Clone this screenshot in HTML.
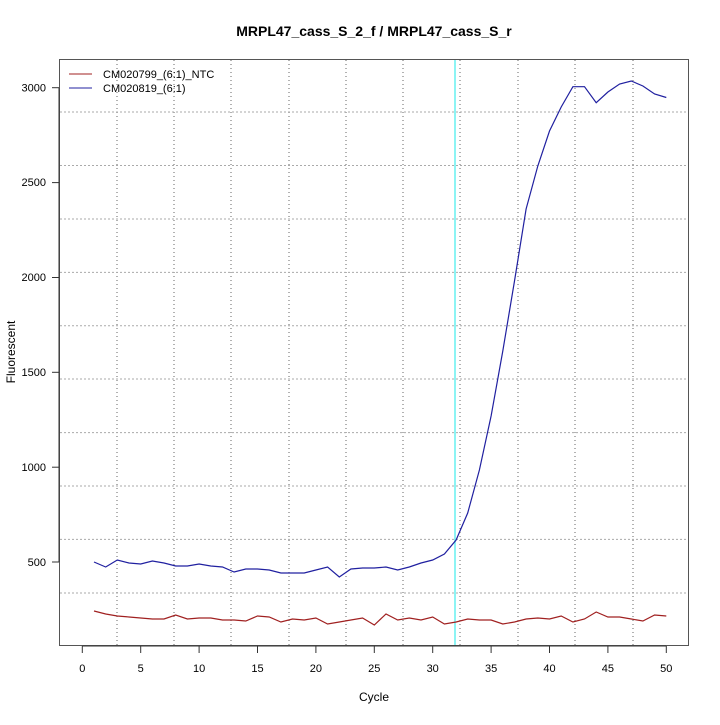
<!DOCTYPE html>
<html><head><meta charset="utf-8"><style>body{margin:0;background:#fff}</style></head><body>
<svg width="720" height="720" xmlns="http://www.w3.org/2000/svg" font-family="Liberation Sans, sans-serif">
<rect width="720" height="720" fill="#fff"/>
<text x="374" y="36" text-anchor="middle" font-weight="bold" font-size="14">MRPL47_cass_S_2_f / MRPL47_cass_S_r</text>
<g stroke="#666" stroke-dasharray="1,3" stroke-width="1">
<line x1="117" y1="60" x2="117" y2="645"/><line x1="174" y1="60" x2="174" y2="645"/><line x1="231" y1="60" x2="231" y2="645"/><line x1="289" y1="60" x2="289" y2="645"/><line x1="346" y1="60" x2="346" y2="645"/><line x1="403" y1="60" x2="403" y2="645"/><line x1="460" y1="60" x2="460" y2="645"/><line x1="518" y1="60" x2="518" y2="645"/><line x1="575" y1="60" x2="575" y2="645"/><line x1="633" y1="60" x2="633" y2="645"/>
</g>
<g stroke="#aaa" stroke-dasharray="2,2" stroke-width="1">
<line x1="60" y1="112" x2="688" y2="112"/><line x1="60" y1="165.5" x2="688" y2="165.5"/><line x1="60" y1="219" x2="688" y2="219"/><line x1="60" y1="272.4" x2="688" y2="272.4"/><line x1="60" y1="325.8" x2="688" y2="325.8"/><line x1="60" y1="379" x2="688" y2="379"/><line x1="60" y1="432.6" x2="688" y2="432.6"/><line x1="60" y1="486" x2="688" y2="486"/><line x1="60" y1="539.4" x2="688" y2="539.4"/><line x1="60" y1="593" x2="688" y2="593"/>
</g>
<line x1="455" y1="60" x2="455" y2="645" stroke="#66f0f0" stroke-width="1.5"/>
<rect x="59.5" y="59.5" width="629" height="586" fill="none" stroke="#555" stroke-width="1"/>
<g stroke="#333">
<line x1="82.3" y1="646" x2="666.3" y2="646"/>
<line x1="82.3" y1="646" x2="82.3" y2="653"/><line x1="140.7" y1="646" x2="140.7" y2="653"/><line x1="199.1" y1="646" x2="199.1" y2="653"/><line x1="257.5" y1="646" x2="257.5" y2="653"/><line x1="315.9" y1="646" x2="315.9" y2="653"/><line x1="374.3" y1="646" x2="374.3" y2="653"/><line x1="432.7" y1="646" x2="432.7" y2="653"/><line x1="491.1" y1="646" x2="491.1" y2="653"/><line x1="549.5" y1="646" x2="549.5" y2="653"/><line x1="607.9" y1="646" x2="607.9" y2="653"/><line x1="666.3" y1="646" x2="666.3" y2="653"/>
<line x1="59" y1="87.7" x2="59" y2="562"/>
<line x1="52" y1="562" x2="59" y2="562"/><line x1="52" y1="467.2" x2="59" y2="467.2"/><line x1="52" y1="372.3" x2="59" y2="372.3"/><line x1="52" y1="277.5" x2="59" y2="277.5"/><line x1="52" y1="182.6" x2="59" y2="182.6"/><line x1="52" y1="87.7" x2="59" y2="87.7"/>
</g>
<g font-size="11" text-anchor="middle">
<text x="82.3" y="672">0</text><text x="140.7" y="672">5</text><text x="199.1" y="672">10</text><text x="257.5" y="672">15</text><text x="315.9" y="672">20</text><text x="374.3" y="672">25</text><text x="432.7" y="672">30</text><text x="491.1" y="672">35</text><text x="549.5" y="672">40</text><text x="607.9" y="672">45</text><text x="666.3" y="672">50</text>
</g>
<g font-size="11" text-anchor="end">
<text x="46" y="566">500</text><text x="46" y="471">1000</text><text x="46" y="376">1500</text><text x="46" y="281">2000</text><text x="46" y="186">2500</text><text x="46" y="91.5">3000</text>
</g>
<text x="374" y="701" font-size="12" text-anchor="middle">Cycle</text>
<text transform="translate(15,352) rotate(-90)" font-size="12" text-anchor="middle">Fluorescent</text>
<line x1="69" y1="74" x2="92" y2="74" stroke="#a02020"/>
<line x1="69" y1="88" x2="92" y2="88" stroke="#2020a0"/>
<text x="103" y="78" font-size="11">CM020799_(6:1)_NTC</text>
<text x="103" y="92" font-size="11">CM020819_(6:1)</text>
<polyline fill="none" stroke="#2020a0" stroke-width="1.2" points="94,562 105.7,567 117.3,560 129,563 140.7,564 152.4,561 164,563 175.7,566 187.4,566 199.1,564 210.8,566 222.5,567 234.1,572 245.8,569 257.5,569 269.2,570 280.9,573 292.5,573 304.2,573 315.9,570 327.6,567 339.3,577 350.9,569 362.6,568 374.3,568 386,567 397.7,570 409.3,567 421,563 432.7,560 444.4,554 456.1,540 467.7,513 479.4,470 491.1,416 502.8,351 514.5,281 526.1,209 537.8,166 549.5,131 561.2,107 572.9,86.7 584.5,86.7 596.2,102.7 607.9,92 619.6,84 631.3,81 642.9,86 654.6,94 666.3,97.5"/>
<polyline fill="none" stroke="#a02020" stroke-width="1.2" points="94,611 105.7,614 117.3,616 129,617 140.7,618 152.4,619 164,619 175.7,615 187.4,619 199.1,618 210.8,618 222.5,620 234.1,620 245.8,621 257.5,616 269.2,617 280.9,622 292.5,619 304.2,620 315.9,618 327.6,624 339.3,622 350.9,620 362.6,618 374.3,625 386,614 397.7,620 409.3,618 421,620 432.7,617 444.4,624 456.1,622 467.7,619 479.4,620 491.1,620 502.8,624 514.5,622 526.1,619 537.8,618 549.5,619 561.2,616 572.9,622 584.5,619 596.2,612 607.9,617 619.6,617 631.3,619 642.9,621 654.6,615 666.3,616"/>
</svg>
</body></html>
